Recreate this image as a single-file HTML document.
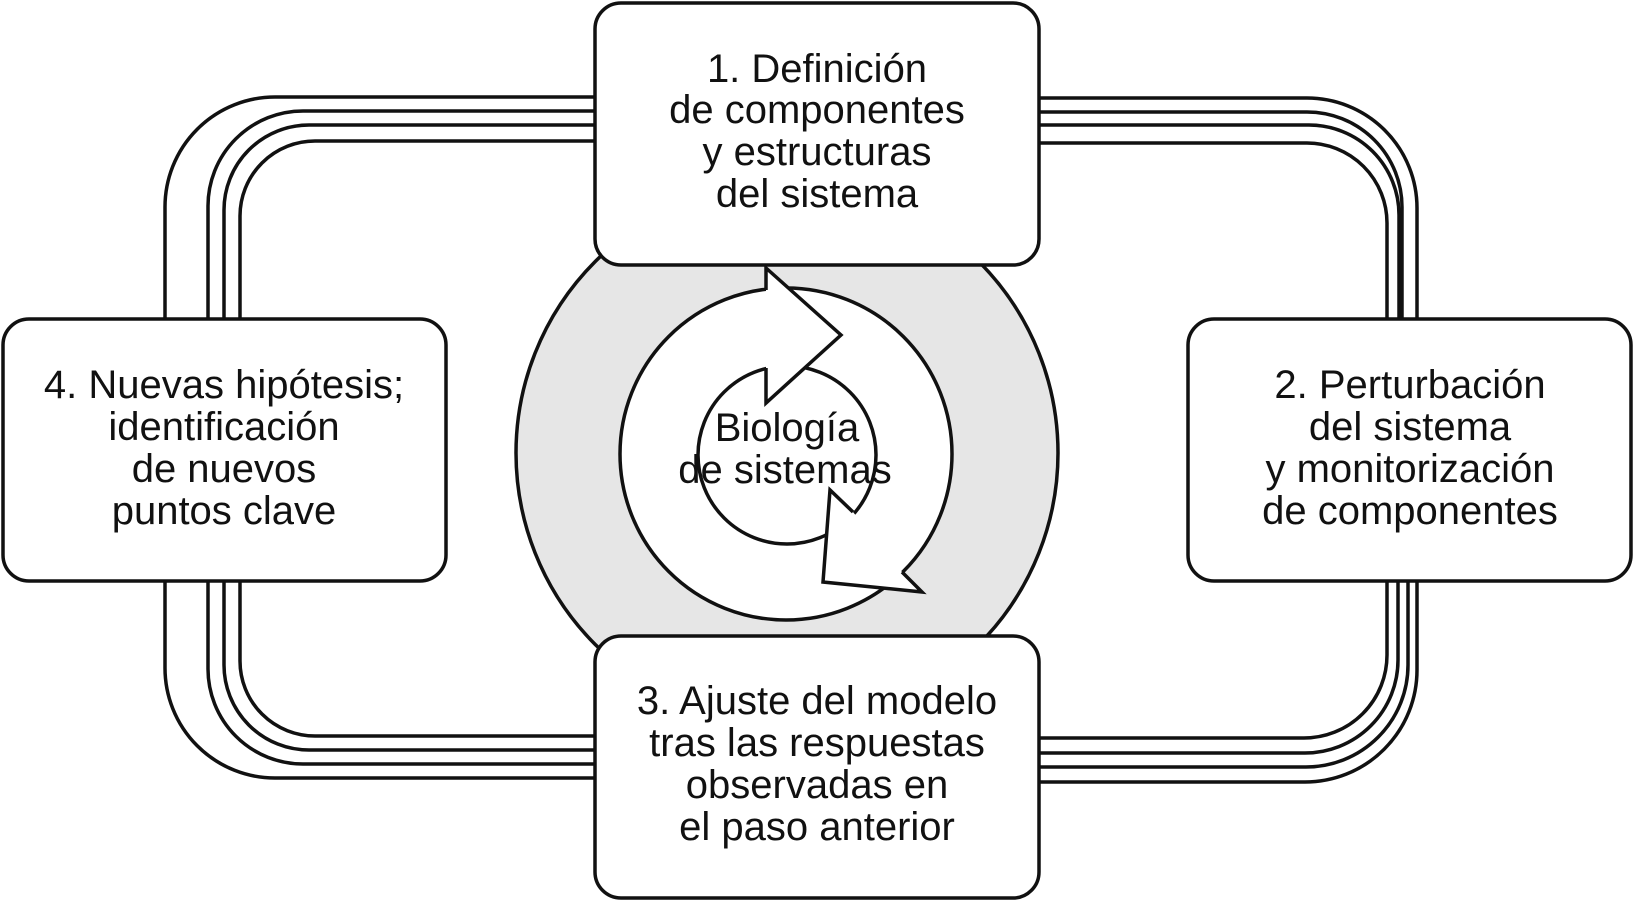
<!DOCTYPE html>
<html><head><meta charset="utf-8"><style>
html,body{margin:0;padding:0;background:#fff;}
svg{display:block;}
text{font-family:"Liberation Sans",sans-serif;font-size:40px;fill:#111;text-anchor:middle;}
</style></head><body>
<svg width="1634" height="901" viewBox="0 0 1634 901" xmlns="http://www.w3.org/2000/svg">
<g fill="none" stroke="#111" stroke-width="3.5">
<!-- top-left -->
<path d="M600 97 H275 A110 110 0 0 0 165 207 V330"/>
<path d="M600 111 H303 A95 95 0 0 0 208 206 V330"/>
<path d="M600 125 H309 A85 85 0 0 0 224 210 V330"/>
<path d="M600 141 H315 A75 75 0 0 0 240 216 V330"/>
<!-- bottom-left -->
<path d="M165 570 V668 A110 110 0 0 0 275 778 H600"/>
<path d="M208 570 V669 A95 95 0 0 0 303 764 H600"/>
<path d="M224 570 V665 A85 85 0 0 0 309 750 H600"/>
<path d="M240 570 V661 A75 75 0 0 0 315 736 H600"/>
<!-- top-right -->
<path d="M1030 98 H1307 A110 110 0 0 1 1417 208 V330"/>
<path d="M1030 112 H1307 A95 95 0 0 1 1402 207 V330"/>
<path d="M1030 125 H1309 A90 90 0 0 1 1399 215 V330"/>
<path d="M1030 143 H1307 A80 80 0 0 1 1387 223 V330"/>
<!-- bottom-right -->
<path d="M1387 570 V655 A83 83 0 0 1 1304 738 H1030"/>
<path d="M1398 570 V660 A93 93 0 0 1 1305 753 H1030"/>
<path d="M1408 570 V665 A102 102 0 0 1 1306 767 H1030"/>
<path d="M1417 570 V670 A112 112 0 0 1 1305 782 H1030"/>
</g>
<!-- center gray circle -->
<circle cx="787" cy="453" r="271" fill="#e6e6e6" stroke="#111" stroke-width="3.5"/>
<circle cx="786" cy="454" r="166" fill="#fff" stroke="#111" stroke-width="3.5"/>
<circle cx="787" cy="455" r="89" fill="#fff" stroke="#111" stroke-width="3.5"/>
<!-- arrow 1 -->
<polygon points="766,266 842,335 766,404" fill="#fff"/>
<polyline points="766,290 766,268 841,335 766,403 766,368" fill="none" stroke="#111" stroke-width="3.5" stroke-linejoin="miter"/>
<!-- arrow 2 -->
<polygon points="853,512 830,490 823,582 922,592 902,572" fill="#fff"/>
<polyline points="853,512 830,490 823,582 922,592 902,572" fill="none" stroke="#111" stroke-width="3.5"/>
<text x="787" y="441">Biología</text>
<text x="785" y="483">de sistemas</text>
<!-- boxes -->
<g fill="#fff" stroke="#111" stroke-width="3.5">
<rect x="595" y="3" width="444" height="262" rx="26"/>
<rect x="1188" y="319" width="443" height="262" rx="26"/>
<rect x="595" y="636" width="444" height="262" rx="26"/>
<rect x="3" y="319" width="443" height="262" rx="26"/>
</g>
<text x="817" y="82">1. Definición</text>
<text x="817" y="123">de componentes</text>
<text x="817" y="165">y estructuras</text>
<text x="817" y="207">del sistema</text>
<text x="1410" y="398">2. Perturbación</text>
<text x="1410" y="440">del sistema</text>
<text x="1410" y="482">y monitorización</text>
<text x="1410" y="524">de componentes</text>
<text x="817" y="714">3. Ajuste del modelo</text>
<text x="817" y="756">tras las respuestas</text>
<text x="817" y="798">observadas en</text>
<text x="817" y="840">el paso anterior</text>
<text x="224" y="398">4. Nuevas hipótesis;</text>
<text x="224" y="440">identificación</text>
<text x="224" y="482">de nuevos</text>
<text x="224" y="524">puntos clave</text>
</svg>
</body></html>
